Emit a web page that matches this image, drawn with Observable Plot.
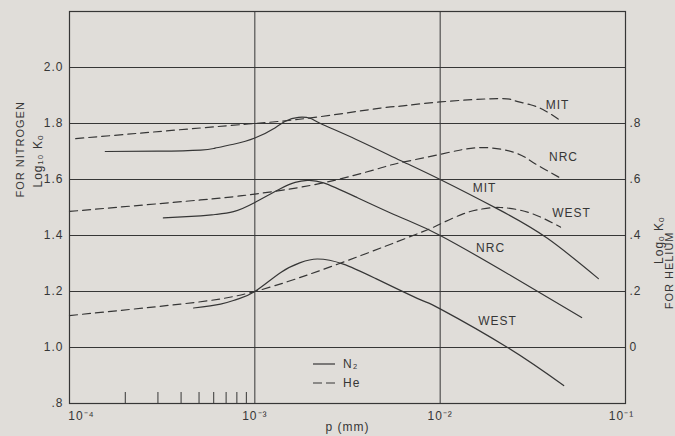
<!DOCTYPE html>
<html><head><meta charset="utf-8">
<script src="https://cdn.jsdelivr.net/npm/d3@7"></script>
<script src="https://cdn.jsdelivr.net/npm/@observablehq/plot@0.6"></script>
<style>
html,body{margin:0;padding:0;background:#e0ddd9;}
#chart svg{display:block;}
</style>
</head><body><div id="chart"></div>
<script>
// ---- Data (p in mm, log10 K0) ----
// Nitrogen (solid, left axis)
const mitN2P  = [1.56e-4, 3.0e-4, 5.1e-4, 6.1e-4, 7.67e-4, 1.0e-3, 1.29e-3, 1.46e-3, 1.72e-3, 2.0e-3, 2.26e-3, 3.5e-3, 6.1e-3, 1.0e-2, 2.04e-2, 3.79e-2, 7.14e-2];
const mitN2K  = [1.700, 1.701, 1.705, 1.712, 1.726, 1.748, 1.785, 1.808, 1.822, 1.818, 1.800, 1.744, 1.668, 1.600, 1.495, 1.390, 1.246];
const nrcN2P  = [3.21e-4, 5.1e-4, 6.1e-4, 7.67e-4, 1.0e-3, 1.38e-3, 1.65e-3, 1.92e-3, 2.35e-3, 3.5e-3, 6.1e-3, 1.0e-2, 2.39e-2, 5.8e-2];
const nrcN2K  = [1.463, 1.470, 1.475, 1.485, 1.518, 1.568, 1.590, 1.597, 1.588, 1.538, 1.465, 1.400, 1.258, 1.107];
const westN2P = [4.67e-4, 6.53e-4, 8.0e-4, 1.0e-3, 1.38e-3, 1.76e-3, 2.18e-3, 3.0e-3, 4.5e-3, 7.8e-3, 1.0e-2, 2.31e-2, 4.64e-2];
const westN2K = [1.141, 1.155, 1.172, 1.200, 1.268, 1.303, 1.316, 1.298, 1.246, 1.171, 1.138, 1.000, 0.864];
// Helium (dashed, right axis values)
const mitHeP  = [1.08e-4, 5.1e-4, 1.0e-3, 2.0e-3, 4.76e-3, 6.1e-3, 1.0e-2, 2.04e-2, 2.5e-2, 3.07e-2, 3.7e-2, 4.46e-2];
const mitHeK  = [0.746, 0.784, 0.800, 0.820, 0.855, 0.862, 0.877, 0.889, 0.882, 0.867, 0.845, 0.810];
const nrcHeP  = [1.0e-4, 5.1e-4, 1.0e-3, 2.26e-3, 4.76e-3, 6.1e-3, 1.0e-2, 1.65e-2, 2.5e-2, 3.07e-2, 3.7e-2, 4.46e-2];
const nrcHeK  = [0.486, 0.527, 0.548, 0.586, 0.641, 0.660, 0.690, 0.714, 0.697, 0.667, 0.635, 0.605];
const westHeP = [1.0e-4, 3.97e-4, 1.0e-3, 3.0e-3, 7.8e-3, 1.0e-2, 1.34e-2, 1.66e-2, 2.12e-2, 3.07e-2, 4.46e-2];
const westHeK = [0.114, 0.155, 0.200, 0.305, 0.410, 0.441, 0.478, 0.494, 0.500, 0.480, 0.430];
// The helium scale is the nitrogen scale shifted by one unit (.8 ↔ 1.8)
const heOffset = 1;

// Ticks
const nitrogenTicks = [0.8, 1.0, 1.2, 1.4, 1.6, 1.8, 2.0];
const heliumTicks = [0, 0.2, 0.4, 0.6, 0.8];
const decadeTicks = [1e-4, 1e-3, 1e-2, 1e-1];
const minorTicks = [2e-4, 3e-4, 4e-4, 5e-4, 6e-4, 7e-4, 8e-4, 9e-4];

// Curve labels (position on the chart, left-axis units)
const labelText = ["MIT", "NRC", "WEST", "MIT", "NRC", "WEST"];
const labelP    = [0.0430, 0.0463, 0.0511, 0.01735, 0.0187, 0.0204];
const labelK    = [1.867, 1.681, 1.481, 1.570, 1.356, 1.095];

// ---- Build tables ----
const rows = (name, gas, P, K, off) => P.map((p, i) => ({name, gas, p, k: K[i] + off}));
const nitrogen = [
  ...rows("MIT", "N2", mitN2P, mitN2K, 0),
  ...rows("NRC", "N2", nrcN2P, nrcN2K, 0),
  ...rows("WEST", "N2", westN2P, westN2K, 0)
];
const helium = [
  ...rows("MIT", "He", mitHeP, mitHeK, heOffset),
  ...rows("NRC", "He", nrcHeP, nrcHeK, heOffset),
  ...rows("WEST", "He", westHeP, westHeK, heOffset)
];
const labels = labelText.map((t, i) => ({t, p: labelP[i], k: labelK[i]}));

const ink = "#363636";
const supMap = {"-": "⁻", "0": "⁰", "1": "¹", "2": "²", "3": "³", "4": "⁴"};
const pow10 = d => "10" + String(Math.round(Math.log10(d))).split("").map(c => supMap[c]).join("");
const f1 = d3.format(".1f");
const fmtN = d => f1(d).replace(/^0(?=\.)/, "");
const fmtHe = d => Math.abs(d) < 1e-9 ? "0" : f1(d).replace(/^0(?=\.)/, "");

const plotH = 436 - 11 - 33;

const chart = Plot.plot({
  width: 675,
  height: 436,
  marginLeft: 69,
  marginRight: 50,
  marginTop: 11,
  marginBottom: 33,
  style: {background: "#e0ddd9", color: ink, fontFamily: "Liberation Sans, Arial, sans-serif", fontSize: "12px", letterSpacing: "1px"},
  x: {type: "log", domain: [1e-4, 1e-1]},
  y: {domain: [0.8, 2.2]},
  marks: [
    Plot.gridY(nitrogenTicks.filter(t => t > 0.8), {stroke: ink, strokeOpacity: 1, strokeWidth: 1}),
    Plot.gridX([1e-3, 1e-2], {stroke: ink, strokeOpacity: 1, strokeWidth: 1}),
    Plot.tickX(minorTicks, {x: d => d, stroke: ink, strokeWidth: 1, insetTop: plotH - 11}),
    Plot.frame({stroke: ink, strokeWidth: 1.2}),
    Plot.axisY(nitrogenTicks, {anchor: "left", tickSize: 0, tickPadding: 6, tickFormat: fmtN, label: null}),
    Plot.axisY(heliumTicks.map(v => v + heOffset), {anchor: "right", tickSize: 0, tickPadding: 4, tickFormat: d => fmtHe(d - heOffset), label: null}),
    Plot.axisX([1e-3, 1e-2], {anchor: "bottom", tickSize: 0, tickPadding: 8, tickFormat: pow10, label: null}),
    Plot.axisX([1e-4], {anchor: "bottom", tickSize: 0, tickPadding: 8, tickFormat: pow10, label: null, dx: 12}),
    Plot.axisX([1e-1], {anchor: "bottom", tickSize: 0, tickPadding: 8, tickFormat: pow10, label: null, dx: -4}),
    Plot.line(helium, {x: "p", y: "k", z: "name", curve: "natural", stroke: ink, strokeWidth: 1.2, strokeDasharray: "8,5"}),
    Plot.line(nitrogen, {x: "p", y: "k", z: "name", curve: "natural", stroke: ink, strokeWidth: 1.2}),
    Plot.text(labels, {x: "p", y: "k", text: "t", fill: ink, fontSize: 12}),
    Plot.text(["p (mm)"], {frameAnchor: "bottom", dy: 27, text: d => d, fill: ink, fontSize: 12}),
    Plot.text(["FOR NITROGEN"], {frameAnchor: "left", rotate: -90, dx: -49, dy: -10, text: d => d, fill: ink, fontSize: 11}),
    Plot.text(["Log₁₀ Kₒ"], {frameAnchor: "left", rotate: -90, dx: -31, dy: -20, text: d => d, fill: ink, fontSize: 12}),
    Plot.text(["Logₒ Kₒ"], {frameAnchor: "right", rotate: -90, dx: 34, dy: 9, text: d => d, fill: ink, fontSize: 12}),
    Plot.text(["FOR HELIUM"], {frameAnchor: "right", rotate: -90, dx: 44, dy: 24, text: d => d, fill: ink, fontSize: 11})
  ]
});

// Legend (inside the plot, lower middle)
const legendItems = [{label: "N₂", dash: null}, {label: "He", dash: "9,4"}];
const lg = d3.select(chart).append("g")
  .attr("font-family", "Liberation Sans, Arial, sans-serif")
  .attr("font-size", 12)
  .attr("letter-spacing", "1px")
  .attr("text-anchor", "start")
  .attr("fill", ink);
legendItems.forEach((it, i) => {
  const y = 364 + i * 19;
  lg.append("line").attr("x1", 313).attr("x2", 335).attr("y1", y).attr("y2", y)
    .attr("stroke", ink).attr("stroke-width", 1.2).attr("stroke-dasharray", it.dash);
  lg.append("text").attr("x", 343).attr("y", y).attr("dy", "0.35em").attr("text-anchor", "start").text(it.label);
});

document.getElementById("chart").append(chart);
</script>
</body></html>
